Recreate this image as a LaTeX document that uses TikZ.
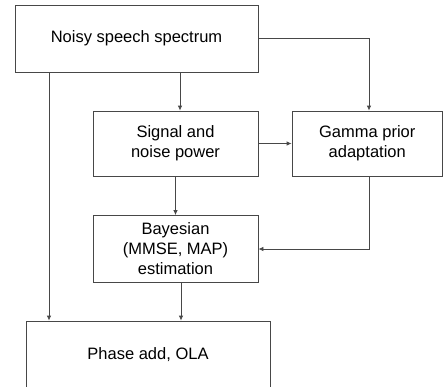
\documentclass[tikz,border=0pt]{standalone}
\usepackage{fontspec}
\setmainfont{Liberation Sans}
\usetikzlibrary{arrows.meta}
\begin{document}
\begin{tikzpicture}[x=1pt,y=-1pt,
  blk/.style={draw=black!72, line width=0.8pt, align=center, inner sep=0pt,
    font=\fontsize{16.5}{20}\selectfont},
  arr/.style={draw=black!72, line width=0.8pt, -{Latex[length=5pt,width=4.5pt]}}]
\useasboundingbox (0,0) rectangle (443,386);
\clip (0,0) rectangle (443,386);
% processing blocks
\node[blk, minimum width=243pt, minimum height=67pt] (top) at (136.5,38.5) {Noisy speech spectrum};
\node[blk, minimum width=165pt, minimum height=65pt] (sig) at (175.5,143.5) {Signal and\\noise power};
\node[blk, minimum width=150.5pt, minimum height=65pt] (gam) at (367.25,143.5) {Gamma prior\\adaptation};
\node[blk, minimum width=165pt, minimum height=67pt] (bay) at (175.5,249) {Bayesian\\(MMSE, MAP)\\estimation};
\node[blk, minimum width=244pt, minimum height=68pt] (pha) at (148,355) {Phase add, OLA};
% signal flow
\coordinate (xa) at (180,0);
\coordinate (xb) at (181,0);
\coordinate (xc) at (49,0);
\coordinate (xd) at (369,0);
\draw[arr] (top.south -| xa) -- (sig.north -| xa);
\draw[arr] (top.east) -| (gam.north -| xd);
\draw[arr] (sig.east) -- (gam.west);
\draw[arr] (sig.south) -- (bay.north);
\draw[arr] (gam.south -| xd) |- (bay.east);
\draw[arr] (bay.south -| xb) -- (pha.north -| xb);
\draw[arr] (top.south -| xc) -- (pha.north -| xc);
\end{tikzpicture}
\end{document}
